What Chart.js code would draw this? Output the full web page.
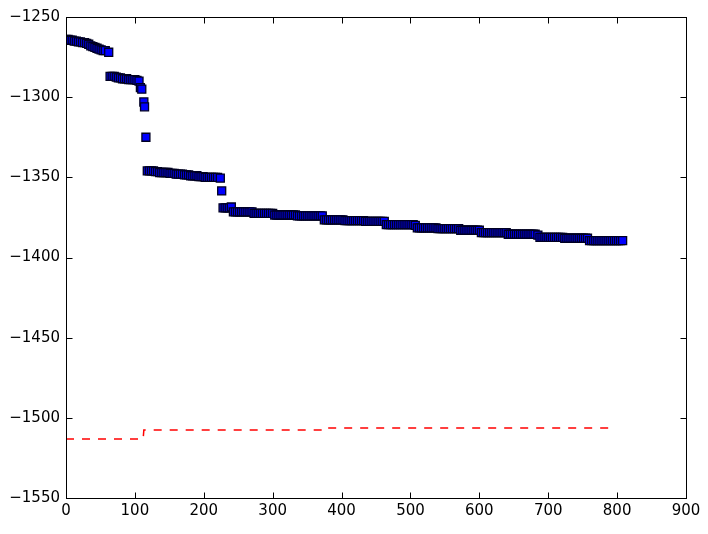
<!DOCTYPE html>
<html>
<head>
<meta charset="utf-8">
<script src="https://cdn.jsdelivr.net/npm/chart.js@4"></script>
<style>
  body { margin: 0; background: #fff; }
</style>
</head>
<body>
<canvas id="chart" width="708" height="534"></canvas>
<script>
// points of the blue series (x, y), one line per plateau
const blueX = [
  0, 3, 6, 9, 12, 15, 18, 21, 24, 27, 30, 33, 36, 39, 42, 45, 48, 51, 54, 57, 62,
  64, 67, 70, 73, 76, 79, 82, 85, 88, 91, 94, 97, 100, 103, 106, 108, 110, 113, 114, 116,
  118, 121, 124, 127, 130, 133, 136, 139, 142, 145, 148, 151, 154, 157, 160, 163, 166, 169, 172, 175, 178, 181, 184, 187, 190, 193, 196, 199, 202, 205, 208, 211, 214, 217, 220, 224, 226,
  228, 231, 234, 237, 240, 243, 246, 249, 252, 255, 258, 261, 264, 267, 270, 273, 276, 279, 282, 285, 288, 291, 294, 297, 300,
  303, 306, 309, 312, 315, 318, 321, 324, 327, 330, 333, 336, 339, 342, 345, 348, 351, 354, 357, 360, 363, 366, 369, 372,
  375, 378, 381, 384, 387, 390, 393, 396, 399, 402, 405, 408, 411, 414, 417, 420, 423, 426, 429, 432, 435, 438, 441, 444, 447, 450, 453, 456, 459, 462,
  465, 468, 471, 474, 477, 480, 483, 486, 489, 492, 495, 498, 501, 504, 507,
  510, 513, 516, 519, 522, 525, 528, 531, 534, 537, 540, 543, 546, 549, 552, 555, 558, 561, 564, 567, 570,
  573, 576, 579, 582, 585, 588, 591, 594, 597, 600,
  603, 606, 609, 612, 615, 618, 621, 624, 627, 630, 633, 636, 639,
  642, 645, 648, 651, 654, 657, 660, 663, 666, 669, 672, 675, 678, 681, 685,
  688, 691, 694, 697, 700, 703, 706, 709, 712, 715, 718, 721, 724, 727, 730, 733, 736, 739, 742, 745, 748, 751, 754, 757,
  760, 763, 766, 769, 772, 775, 778, 781, 784, 787, 790, 793, 796, 799, 802, 805, 808
];
const blueY = [
  -1264, -1264, -1264.5, -1264.5, -1265, -1265, -1265.5, -1265.5, -1266, -1266, -1266.5, -1267, -1268, -1268.5, -1269, -1269.5, -1270, -1270.5, -1271, -1271, -1272,
  -1287, -1287, -1287, -1287.5, -1288, -1288, -1288.5, -1288.5, -1288.5, -1289, -1289, -1289, -1289, -1289.5, -1290, -1294, -1295, -1303, -1306, -1325,
  -1346, -1346, -1346, -1346, -1346.5, -1346.5, -1347, -1347, -1347, -1347, -1347, -1347.5, -1347.5, -1347.5, -1348, -1348, -1348, -1348, -1348.5, -1348.5, -1348.5, -1349, -1349, -1349, -1349, -1349.5, -1349.5, -1349.5, -1350, -1350, -1350, -1350, -1350, -1350, -1350, -1350.5, -1358.5,
  -1369, -1369, -1369, -1369, -1368.5, -1371.5, -1371.5, -1371.5, -1371.5, -1371.5, -1371.5, -1371.5, -1371.5, -1371.5, -1371.5, -1372.5, -1372.5, -1372.5, -1372.5, -1372.5, -1372.5, -1372.5, -1372.5, -1372.5, -1372.5,
  -1373.5, -1373.5, -1373.5, -1373.5, -1373.5, -1373.5, -1373.5, -1373.5, -1373.5, -1373.5, -1373.5, -1374, -1374, -1374, -1374, -1374, -1374, -1374, -1374, -1374, -1374, -1374, -1374, -1374,
  -1376.5, -1376.5, -1376.5, -1376.5, -1376.5, -1376.5, -1376.5, -1376.5, -1376.5, -1376.5, -1377, -1377, -1377, -1377, -1377, -1377, -1377, -1377, -1377, -1377, -1377.5, -1377.5, -1377.5, -1377.5, -1377.5, -1377.5, -1377.5, -1377.5, -1377.5, -1377.5,
  -1379.5, -1379.5, -1379.5, -1379.5, -1379.5, -1379.5, -1379.5, -1379.5, -1379.5, -1379.5, -1379.5, -1379.5, -1379.5, -1379.5, -1380,
  -1381.5, -1381.5, -1381.5, -1381.5, -1381.5, -1381.5, -1381.5, -1381.5, -1381.5, -1381.5, -1382, -1382, -1382, -1382, -1382, -1382, -1382, -1382, -1382, -1382, -1382,
  -1383, -1383, -1383, -1383, -1383, -1383, -1383, -1383, -1383, -1383,
  -1384.5, -1384.5, -1384.5, -1384.5, -1384.5, -1384.5, -1384.5, -1384.5, -1384.5, -1384.5, -1384.5, -1384.5, -1384.5,
  -1385.5, -1385.5, -1385.5, -1385.5, -1385.5, -1385.5, -1385.5, -1385.5, -1385.5, -1385.5, -1385.5, -1385.5, -1385.5, -1385.5, -1386,
  -1387.5, -1387.5, -1387.5, -1387.5, -1387.5, -1387.5, -1387.5, -1387.5, -1387.5, -1387.5, -1387.5, -1387.5, -1388, -1388, -1388, -1388, -1388, -1388, -1388, -1388, -1388, -1388, -1388, -1388,
  -1389.5, -1389.5, -1389.5, -1389.5, -1389.5, -1389.5, -1389.5, -1389.5, -1389.5, -1389.5, -1389.5, -1389.5, -1389.5, -1389.5, -1389.5, -1389.5, -1389.5
];

// red dashed reference line
const redX = [0, 112, 113, 373, 374, 797];
const redY = [-1513.2, -1513.2, -1507.6, -1507.6, -1506.3, -1506.3];

const xTicks = [0, 100, 200, 300, 400, 500, 600, 700, 800, 900];
const yTicks = [-1550, -1500, -1450, -1400, -1350, -1300, -1250];

const minus = v => String(v).replace('-', '\u2212');

// frame + inward ticks on all four sides, like matplotlib classic
const frameTicks = {
  id: 'frameTicks',
  afterDraw(chart) {
    const { ctx, chartArea: a, scales } = chart;
    const L = Math.round(a.left) + 0.5, R = Math.round(a.right) + 0.5;
    const T = Math.round(a.top) + 0.5, B = Math.round(a.bottom) + 0.5;
    ctx.save();
    ctx.strokeStyle = '#000';
    ctx.lineWidth = 1;
    ctx.beginPath();
    xTicks.forEach(v => {
      const px = Math.round(scales.x.getPixelForValue(v)) + 0.5;
      ctx.moveTo(px, B); ctx.lineTo(px, B - 6);
      ctx.moveTo(px, T); ctx.lineTo(px, T + 6);
    });
    yTicks.forEach(v => {
      const py = Math.round(scales.y.getPixelForValue(v)) + 0.5;
      ctx.moveTo(L, py); ctx.lineTo(L + 6, py);
      ctx.moveTo(R, py); ctx.lineTo(R - 6, py);
    });
    ctx.stroke();
    ctx.strokeRect(L, T, R - L, B - T);
    ctx.restore();
  }
};

const font = { family: 'DejaVu Sans', size: 15 };

new Chart(document.getElementById('chart'), {
  type: 'scatter',
  data: {
    datasets: [
      {
        data: blueX.map((x, i) => ({ x: x, y: blueY[i] })),
        showLine: false,
        pointStyle: 'rect',
        pointRadius: 5.66,
        backgroundColor: '#0000ff',
        borderColor: '#000022',
        borderWidth: 1.3
      },
      {
        data: redX.map((x, i) => ({ x: x, y: redY[i] })),
        showLine: true,
        pointRadius: 0,
        borderColor: '#ff0000',
        borderWidth: 1.5,
        borderDash: [8, 8]
      }
    ]
  },
  options: {
    responsive: false,
    animation: false,
    layout: { padding: { top: 17, right: 22, left: 0, bottom: 0 } },
    plugins: { legend: { display: false }, tooltip: { enabled: false } },
    scales: {
      x: {
        type: 'linear', min: 0, max: 900,
        afterBuildTicks: s => { s.ticks = xTicks.map(v => ({ value: v })); },
        afterFit: s => { s.height = 36; },
        grid: { display: false, drawTicks: false },
        border: { display: false },
        ticks: { font: font, color: '#000', padding: 4, maxRotation: 0, callback: minus }
      },
      y: {
        type: 'linear', min: -1550, max: -1250,
        afterBuildTicks: s => { s.ticks = yTicks.map(v => ({ value: v })); },
        afterFit: s => { s.width = 66; },
        grid: { display: false, drawTicks: false },
        border: { display: false },
        ticks: { font: font, color: '#000', padding: 6, callback: minus }
      }
    }
  },
  plugins: [frameTicks]
});
</script>
</body>
</html>
